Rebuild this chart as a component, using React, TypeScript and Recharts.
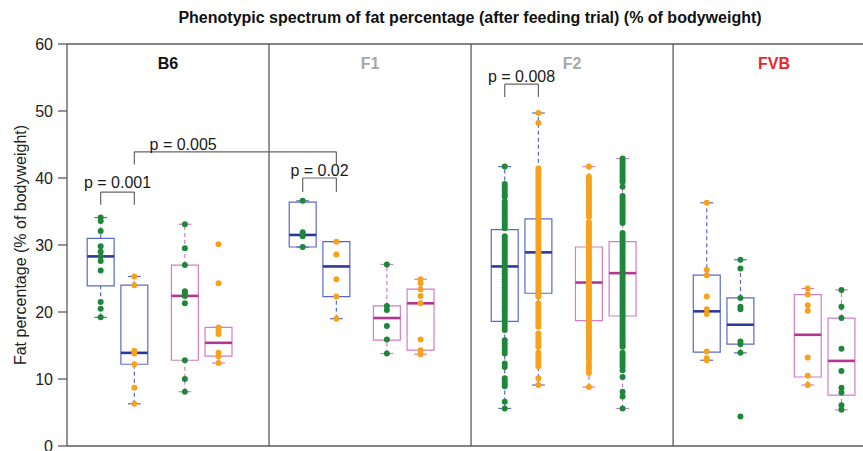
import {
  ComposedChart,
  XAxis,
  YAxis,
  Scatter,
  ReferenceArea,
  ReferenceLine,
  ReferenceDot,
  Customized,
} from "recharts";

const groups = ["B6", "F1", "F2", "FVB"];
const groupLabelColors = ["#111111", "#a8a8a8", "#a8a8a8", "#e8262c"];
const yTicks = [0, 10, 20, 30, 40, 50, 60];

// where the 4 boxes of a group sit inside its panel (panel = 6 x units)
const slots = [
  [1, 2, 3.5, 4.5],
  [1, 2, 3.5, 4.5],
  [1, 2, 3.5, 4.5],
  [1, 2, 4, 5],
];

// [lower whisker, q1, median, q3, upper whisker]
const b6Boxes = [
  [19.2, 23.9, 28.3, 31.0, 34.1],
  [6.3, 12.2, 13.9, 24.0, 25.3],
  [8.1, 12.8, 22.4, 27.0, 33.1],
  [12.4, 13.4, 15.4, 17.7, 17.7],
];
const f1Boxes = [
  [29.7, 29.7, 31.5, 36.4, 36.6],
  [19.0, 22.3, 26.8, 30.5, 30.5],
  [13.8, 15.8, 19.1, 20.9, 27.1],
  [13.7, 14.3, 21.3, 23.4, 24.9],
];
const f2Boxes = [
  [5.6, 18.6, 26.8, 32.3, 41.7],
  [9.1, 22.8, 28.9, 33.9, 49.7],
  [8.8, 18.7, 24.4, 29.7, 41.7],
  [5.6, 19.4, 25.8, 30.5, 42.9],
];
const fvbBoxes = [
  [12.8, 14.0, 20.1, 25.5, 36.3],
  [13.9, 15.2, 18.1, 22.1, 27.8],
  [9.1, 10.3, 16.6, 22.6, 23.5],
  [5.4, 7.6, 12.7, 19.1, 23.3],
];

const b6Points = [
  [34.1, 33.6, 32.1, 29.8, 29.0, 28.3, 27.6, 26.2, 21.5, 20.5, 19.2],
  [25.3, 24.0, 14.2, 13.8, 12.2, 8.7, 6.3],
  [33.1, 29.5, 27.0, 23.1, 22.8, 22.4, 21.3, 12.8, 10.0, 8.1],
  [30.1, 24.3, 17.7, 17.2, 16.7, 13.9, 13.4, 12.4],
];
const f1Points = [
  [36.6, 31.9, 31.3, 29.7],
  [30.5, 28.6, 24.9, 22.3, 19.0],
  [27.1, 20.9, 20.3, 17.9, 15.9, 13.8],
  [24.9, 24.3, 23.4, 22.4, 21.3, 15.9, 14.3, 13.7],
];
const f2Points = [
  [
    41.7, 39.1, 38.7, 38.3, 37.9, 37.5, 37.2, 36.5, 36.1, 35.7, 35.3, 34.9,
    34.5, 34.1, 33.7, 33.3, 32.9, 32.5, 31.3, 30.9, 30.5, 30.1, 29.7, 29.3,
    28.9, 28.5, 28.1, 27.7, 27.3, 26.9, 26.5, 26.1, 25.7, 25.3, 24.9, 24.5,
    24.1, 23.7, 23.3, 22.9, 22.5, 22.1, 21.7, 21.3, 20.9, 20.5, 20.1, 19.7,
    19.3, 18.8, 18.3, 17.8, 17.3, 15.8, 15.3, 14.8, 14.3, 13.8, 12.3, 11.8,
    10.1, 9.7, 9.3, 8.9, 6.6, 5.6,
  ],
  [
    49.7, 48.2, 41.4, 41.0, 40.6, 40.2, 39.8, 39.4, 39.0, 38.6, 38.2, 37.8,
    37.4, 37.0, 36.6, 36.2, 35.8, 35.4, 35.0, 34.6, 34.2, 33.8, 33.4, 33.0,
    32.6, 32.2, 31.8, 31.4, 31.0, 30.6, 30.2, 29.8, 29.4, 29.0, 28.6, 28.2,
    27.8, 27.4, 27.0, 26.6, 26.2, 25.8, 25.4, 25.0, 24.6, 24.2, 23.8, 23.4,
    23.0, 22.6, 22.3, 21.3, 20.9, 20.5, 20.1, 19.7, 19.3, 18.9, 18.5, 18.1,
    17.8, 16.8, 16.4, 16.0, 15.6, 15.2, 14.8, 13.9, 13.5, 13.1, 12.7, 12.3,
    11.9, 10.1, 9.1,
  ],
  [
    41.7, 40.2, 39.8, 39.4, 39.0, 38.6, 38.2, 37.8, 37.4, 37.0, 36.6, 36.2,
    35.8, 35.4, 35.0, 34.6, 34.2, 33.4, 33.0, 32.6, 32.2, 31.8, 31.4, 31.0,
    30.6, 30.2, 29.8, 29.4, 29.0, 28.6, 28.2, 27.8, 27.4, 27.0, 26.6, 26.2,
    25.8, 25.4, 25.0, 24.6, 24.2, 23.8, 23.4, 23.0, 22.6, 22.2, 21.8, 21.4,
    21.0, 20.6, 20.2, 19.8, 19.4, 19.0, 18.6, 18.2, 17.8, 17.4, 17.0, 16.6,
    16.2, 15.8, 15.4, 15.0, 14.6, 14.2, 13.8, 13.4, 13.0, 12.4, 11.9, 11.4,
    10.9, 8.8,
  ],
  [
    42.9, 42.5, 42.1, 41.7, 41.3, 40.9, 40.5, 40.1, 39.7, 39.4, 38.7, 37.3,
    36.9, 36.5, 36.1, 35.7, 35.3, 34.9, 34.5, 34.1, 33.7, 33.3, 31.8, 31.4,
    31.0, 30.6, 30.2, 29.8, 29.4, 29.0, 28.6, 28.2, 27.8, 27.4, 27.0, 26.6,
    26.2, 25.8, 25.4, 25.0, 24.6, 24.2, 23.8, 23.4, 23.0, 22.6, 22.2, 21.8,
    21.4, 21.0, 20.6, 20.2, 19.8, 19.4, 19.0, 18.6, 18.2, 17.8, 17.4, 17.0,
    16.6, 16.2, 15.8, 15.4, 15.0, 14.8, 13.9, 13.5, 13.1, 12.7, 12.3, 11.9,
    11.3, 10.3, 8.1, 7.4, 5.6,
  ],
];
const fvbPoints = [
  [36.3, 26.3, 25.5, 22.3, 20.4, 19.7, 14.1, 13.1, 12.8],
  [27.8, 26.5, 22.1, 20.8, 20.4, 15.6, 15.2, 13.9, 4.4],
  [23.5, 22.6, 21.0, 20.2, 13.2, 10.5, 9.1],
  [23.3, 20.8, 19.1, 14.5, 11.2, 8.7, 8.0, 6.1, 5.4],
];

// g = green dots, o = orange dots
const pointKinds = [
  ["g", "o", "g", "o"],
  ["g", "o", "g", "o"],
  ["g", "o", "o", "g"],
  ["o", "g", "o", "g"],
];

// p-value brackets: [group, slot] of both ends, bar level, leg end, label x / y
const brackets = [
  { text: "p = 0.001", a: [0, 0], b: [0, 1], top: 37.9, foot: 36.0, tx: 1.5, ty: 38.5 },
  { text: "p = 0.005", a: [0, 1], b: [1, 1], top: 43.9, foot: 42.0, tx: 3.45, ty: 44.2 },
  { text: "p = 0.02", a: [1, 0], b: [1, 1], top: 40.0, foot: 37.9, tx: 7.5, ty: 40.3 },
  { text: "p = 0.008", a: [2, 0], b: [2, 1], top: 54.0, foot: 52.1, tx: 13.5, ty: 54.4 },
];

const allBoxes = [b6Boxes, f1Boxes, f2Boxes, fvbBoxes];
const allPoints = [b6Points, f1Points, f2Points, fvbPoints];

const PANEL = 6;
const BOX_W = 0.8;
const CAP_W = 0.38;
const FONT = '"Liberation Sans", Arial, Helvetica, sans-serif';
const frame = "#5a5a5a";
const boxStyle = [
  { edge: "#5b69c9", mid: "#2b3a9a" },
  { edge: "#5b69c9", mid: "#2b3a9a" },
  { edge: "#d47cc7", mid: "#b33791" },
  { edge: "#d47cc7", mid: "#b33791" },
];
const dotColor: Record<string, string> = { g: "#1f873a", o: "#f7a21c" };

const xOf = (g: number, s: number) => g * PANEL + slots[g][s];

const greenDots: { x: number; y: number }[] = [];
const orangeDots: { x: number; y: number }[] = [];
allPoints.forEach((pts, g) =>
  pts.forEach((vals, s) =>
    vals.forEach((v) =>
      (pointKinds[g][s] === "g" ? greenDots : orangeDots).push({ x: xOf(g, s), y: v })
    )
  )
);

const Texts = () => (
  <g fontFamily={FONT}>
    <text x={470} y={23} textAnchor="middle" fontSize={16} fontWeight="bold" fill="#111">
      Phenotypic spectrum of fat percentage (after feeding trial) (% of bodyweight)
    </text>
    <text
      transform="translate(26,245) rotate(-90)"
      textAnchor="middle"
      fontSize={16}
      fill="#222"
    >
      Fat percentage (% of bodyweight)
    </text>
  </g>
);

export default function App() {
  const boxEls: JSX.Element[] = [];
  allBoxes.forEach((boxes, g) =>
    boxes.forEach(([lo, q1, med, q3, hi], s) => {
      const x = xOf(g, s);
      const st = boxStyle[s];
      const k = `${g}-${s}`;
      boxEls.push(
        <ReferenceLine key={`wu${k}`} segment={[{ x, y: q3 }, { x, y: hi }]} stroke={st.edge} strokeDasharray="4 3" strokeWidth={1.2} />,
        <ReferenceLine key={`wl${k}`} segment={[{ x, y: lo }, { x, y: q1 }]} stroke={st.edge} strokeDasharray="4 3" strokeWidth={1.2} />,
        <ReferenceLine key={`cu${k}`} segment={[{ x: x - CAP_W / 2, y: hi }, { x: x + CAP_W / 2, y: hi }]} stroke={st.edge} strokeWidth={1.2} />,
        <ReferenceLine key={`cl${k}`} segment={[{ x: x - CAP_W / 2, y: lo }, { x: x + CAP_W / 2, y: lo }]} stroke={st.edge} strokeWidth={1.2} />,
        <ReferenceArea key={`b${k}`} x1={x - BOX_W / 2} x2={x + BOX_W / 2} y1={q1} y2={q3} fill="none" stroke={st.edge} strokeWidth={1.2} />
      );
    })
  );

  const medianEls: JSX.Element[] = [];
  allBoxes.forEach((boxes, g) =>
    boxes.forEach((b, s) => {
      const x = xOf(g, s);
      medianEls.push(
        <ReferenceLine
          key={`m${g}-${s}`}
          segment={[{ x: x - BOX_W / 2, y: b[2] }, { x: x + BOX_W / 2, y: b[2] }]}
          stroke={boxStyle[s].mid}
          strokeWidth={2.6}
        />
      );
    })
  );

  const bracketEls: JSX.Element[] = [];
  brackets.forEach((br, i) => {
    const xa = xOf(br.a[0], br.a[1]);
    const xb = xOf(br.b[0], br.b[1]);
    bracketEls.push(
      <ReferenceLine key={`ba${i}`} segment={[{ x: xa, y: br.foot }, { x: xa, y: br.top }]} stroke="#666" strokeWidth={1.2} />,
      <ReferenceLine key={`bh${i}`} segment={[{ x: xa, y: br.top }, { x: xb, y: br.top }]} stroke="#666" strokeWidth={1.2} />,
      <ReferenceLine key={`bb${i}`} segment={[{ x: xb, y: br.top }, { x: xb, y: br.foot }]} stroke="#666" strokeWidth={1.2} />,
      <ReferenceDot
        key={`bt${i}`}
        x={br.tx}
        y={br.ty}
        r={0}
        shape={(p: any) => (
          <text x={p.cx} y={p.cy} textAnchor="middle" fontSize={16} fontFamily={FONT} fill="#1a1a1a">
            {br.text}
          </text>
        )}
      />
    );
  });

  return (
    <div style={{ position: "absolute", left: 0, top: 0 }}>
      <ComposedChart
        width={863}
        height={451}
        margin={{ top: 44, right: 0, bottom: 5, left: 0 }}
      >
        <XAxis dataKey="x" type="number" domain={[0, 23.64]} allowDataOverflow hide />
        <YAxis
          dataKey="y"
          type="number"
          domain={[0, 60]}
          ticks={yTicks}
          interval={0}
          width={67}
          tickSize={9}
          tickMargin={5}
          axisLine={{ stroke: frame, strokeWidth: 1.3 }}
          tickLine={{ stroke: frame, strokeWidth: 1.3 }}
          tick={{ fontSize: 16, fill: "#222", fontFamily: FONT }}
        />
        <ReferenceLine y={60} stroke={frame} strokeWidth={1.3} />
        <ReferenceLine y={0} stroke={frame} strokeWidth={1.3} />
        {[1, 2, 3].map((i) => (
          <ReferenceLine key={`sep${i}`} x={i * PANEL} stroke={frame} strokeWidth={1.3} />
        ))}
        {groups.map((name, g) => (
          <ReferenceDot
            key={`lab${g}`}
            x={g * PANEL + 3}
            y={56.3}
            r={0}
            shape={(p: any) => (
              <text x={p.cx} y={p.cy} textAnchor="middle" fontSize={16} fontWeight="bold" fontFamily={FONT} fill={groupLabelColors[g]}>
                {name}
              </text>
            )}
          />
        ))}
        {boxEls}
        {bracketEls}
        <Scatter
          data={greenDots}
          isAnimationActive={false}
          shape={(p: any) => <circle cx={p.cx} cy={p.cy} r={3} fill={dotColor.g} />}
        />
        <Scatter
          data={orangeDots}
          isAnimationActive={false}
          shape={(p: any) => <circle cx={p.cx} cy={p.cy} r={3} fill={dotColor.o} />}
        />
        {medianEls}
        <Customized component={Texts} />
      </ComposedChart>
    </div>
  );
}
